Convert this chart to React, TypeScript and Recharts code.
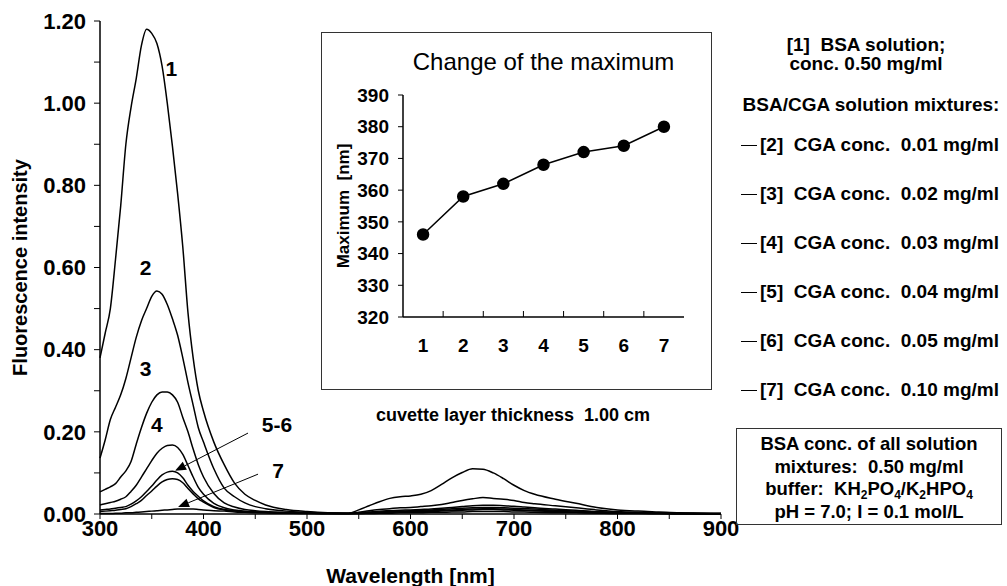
import React from 'react'
import { LineChart, Line, XAxis, YAxis, ReferenceLine, ReferenceDot, Label } from 'recharts'

const FONT = '"Liberation Sans", Arial, Helvetica, sans-serif'

// emission wavelengths [nm]
const wavelengths = [
  300, 305, 310, 315, 320, 325, 330, 335, 340, 345, 350, 355, 360, 365, 370, 375, 380, 385, 390, 395, 400,
  410, 420, 430, 440, 450, 460,
  480, 500, 520, 540,
  550, 560, 570, 580, 590, 600, 610, 620, 630, 640, 650, 660, 670, 680, 690, 700, 710, 720,
  740, 760, 780, 800, 820, 840, 860, 880, 900,
]

// [1] BSA solution
const bsa = [
  0.38, 0.44, 0.50, 0.62, 0.75, 0.90, 0.99, 1.06, 1.14, 1.18, 1.17, 1.145, 1.09, 1.00, 0.895, 0.78, 0.65, 0.49, 0.38, 0.30, 0.25,
  0.175, 0.12, 0.075, 0.048, 0.033, 0.022,
  0.011, 0.006, 0.003, 0.002,
  0.010, 0.020, 0.030, 0.038, 0.042, 0.044, 0.048, 0.057, 0.072, 0.088, 0.101, 0.110, 0.109, 0.100, 0.086, 0.070, 0.057, 0.048,
  0.036, 0.026, 0.016, 0.010, 0.007, 0.005, 0.003, 0.002, 0.001,
]
// [2] CGA 0.01 mg/ml
const cga001 = [
  0.136, 0.18, 0.23, 0.26, 0.29, 0.33, 0.38, 0.43, 0.47, 0.50, 0.53, 0.543, 0.535, 0.51, 0.475, 0.435, 0.38, 0.32, 0.265, 0.21, 0.175,
  0.11, 0.063, 0.042, 0.027, 0.018, 0.013,
  0.007, 0.004, 0.002, 0.001,
  0.004, 0.008, 0.011, 0.013, 0.015, 0.016, 0.018, 0.020, 0.023, 0.028, 0.033, 0.037, 0.040, 0.038, 0.036, 0.033, 0.028, 0.025,
  0.020, 0.015, 0.010, 0.006, 0.004, 0.003, 0.002, 0.001, 0.001,
]
// [3] CGA 0.02 mg/ml
const cga002 = [
  0.054, 0.06, 0.066, 0.074, 0.09, 0.105, 0.128, 0.17, 0.21, 0.245, 0.272, 0.29, 0.297, 0.297, 0.29, 0.272, 0.235, 0.20, 0.158, 0.12, 0.09,
  0.05, 0.027, 0.017, 0.011, 0.008, 0.006,
  0.004, 0.003, 0.002, 0.001,
  0.003, 0.005, 0.007, 0.008, 0.009, 0.010, 0.011, 0.012, 0.014, 0.016, 0.018, 0.020, 0.021, 0.021, 0.020, 0.019, 0.017, 0.015,
  0.012, 0.009, 0.006, 0.004, 0.003, 0.002, 0.001, 0.001, 0.001,
]
// [4] CGA 0.03 mg/ml
const cga003 = [
  0.022, 0.025, 0.028, 0.031, 0.036, 0.042, 0.055, 0.07, 0.09, 0.11, 0.13, 0.148, 0.16, 0.167, 0.168, 0.162, 0.145, 0.118, 0.09, 0.065, 0.048,
  0.026, 0.015, 0.010, 0.007, 0.005, 0.004,
  0.003, 0.002, 0.001, 0.001,
  0.002, 0.004, 0.005, 0.006, 0.007, 0.008, 0.009, 0.010, 0.011, 0.013, 0.014, 0.015, 0.016, 0.016, 0.015, 0.014, 0.013, 0.012,
  0.009, 0.007, 0.005, 0.003, 0.002, 0.002, 0.001, 0.001, 0.001,
]
// [5] CGA 0.04 mg/ml
const cga004 = [
  0.010, 0.011, 0.012, 0.014, 0.016, 0.018, 0.024, 0.032, 0.042, 0.055, 0.068, 0.083, 0.095, 0.102, 0.104, 0.100, 0.088, 0.070, 0.055, 0.043, 0.032,
  0.018, 0.011, 0.008, 0.006, 0.005, 0.004,
  0.003, 0.002, 0.001, 0.001,
  0.002, 0.003, 0.004, 0.005, 0.006, 0.006, 0.007, 0.008, 0.009, 0.010, 0.011, 0.012, 0.013, 0.013, 0.012, 0.011, 0.010, 0.009,
  0.007, 0.005, 0.004, 0.003, 0.002, 0.001, 0.001, 0.001, 0,
]
// [6] CGA 0.05 mg/ml
const cga005 = [
  0.006, 0.007, 0.008, 0.009, 0.011, 0.013, 0.018, 0.025, 0.033, 0.045, 0.056, 0.068, 0.078, 0.084, 0.086, 0.084, 0.076, 0.062, 0.049, 0.037, 0.029,
  0.016, 0.010, 0.007, 0.005, 0.004, 0.003,
  0.002, 0.002, 0.001, 0.001,
  0.001, 0.002, 0.003, 0.004, 0.005, 0.005, 0.006, 0.006, 0.007, 0.008, 0.009, 0.010, 0.011, 0.011, 0.010, 0.009, 0.008, 0.007,
  0.006, 0.004, 0.003, 0.002, 0.002, 0.001, 0.001, 0, 0,
]
// [7] CGA 0.10 mg/ml
const cga010 = [
  0.001, 0.001, 0.001, 0.002, 0.002, 0.003, 0.003, 0.004, 0.005, 0.006, 0.007, 0.008, 0.009, 0.010, 0.011, 0.012, 0.012, 0.012, 0.012, 0.011, 0.010,
  0.008, 0.007, 0.005, 0.004, 0.003, 0.003,
  0.002, 0.001, 0.001, 0.001,
  0.001, 0.001, 0.002, 0.002, 0.003, 0.003, 0.003, 0.004, 0.004, 0.005, 0.005, 0.006, 0.006, 0.006, 0.006, 0.005, 0.005, 0.004,
  0.003, 0.003, 0.002, 0.001, 0.001, 0.001, 0, 0, 0,
]

const seriesList = [bsa, cga001, cga002, cga003, cga004, cga005, cga010]
const seriesKeys = ['s1', 's2', 's3', 's4', 's5', 's6', 's7']

const xTicks = [300, 350, 400, 450, 500, 550, 600, 650, 700, 750, 800, 850, 900]
const yTicks = [0, 0.1, 0.2, 0.3, 0.4, 0.5, 0.6, 0.7, 0.8, 0.9, 1.0, 1.1, 1.2]

// curve labels and arrows, in data units
const curveNotes = [
  { text: '1', nm: 369, v: 1.085 },
  { text: '2', nm: 344, v: 0.6 },
  { text: '3', nm: 344, v: 0.355 },
  { text: '4', nm: 355, v: 0.219 },
  { text: '5-6', nm: 471, v: 0.217 },
  { text: '7', nm: 472, v: 0.107 },
]
const arrows = [
  { from: [443, 0.197], to: [372.5, 0.105] },
  { from: [452.7, 0.097], to: [375.4, 0.017] },
]

// inset: position of the maximum
const steps = [1, 2, 3, 4, 5, 6, 7]
const maxima = [346, 358, 362, 368, 372, 374, 380]
const insetXTicks = [0.5, 1, 1.5, 2, 2.5, 3, 3.5, 4, 4.5, 5, 5.5, 6, 6.5, 7, 7.5]
const insetYTicks = [320, 330, 340, 350, 360, 370, 380, 390]

const legendItems = [
  { id: 2, conc: '0.01' },
  { id: 3, conc: '0.02' },
  { id: 4, conc: '0.03' },
  { id: 5, conc: '0.04' },
  { id: 6, conc: '0.05' },
  { id: 7, conc: '0.10' },
]

const spectra = wavelengths.map((nm, i) => {
  const row: any = { nm }
  seriesKeys.forEach((k, j) => { row[k] = seriesList[j][i] })
  return row
})
const insetData = steps.map((step, i) => ({ step, max: maxima[i] }))

const Arrow = (props: any) => {
  const { x1, y1, x2, y2 } = props
  const ang = Math.atan2(y2 - y1, x2 - x1)
  const len = 11
  const half = 4.5
  const bx = x2 - len * Math.cos(ang)
  const by = y2 - len * Math.sin(ang)
  const px = -Math.sin(ang) * half
  const py = Math.cos(ang) * half
  return (
    <g>
      <line x1={x1} y1={y1} x2={bx} y2={by} stroke="#000" strokeWidth={1} />
      <polygon points={`${x2},${y2} ${bx + px},${by + py} ${bx - px},${by - py}`} fill="#000" />
    </g>
  )
}

const InsetTick = (props: any) => {
  const { x, y, payload } = props
  const v = payload.value
  if (Number.isInteger(v)) {
    return (
      <text x={x} y={y + 28} textAnchor="middle" dominantBaseline="central"
        fontFamily={FONT} fontWeight="bold" fontSize={19} fill="#000">{v}</text>
    )
  }
  if (v <= 0.5 || v >= 7.5) return <g />
  return <line x1={x} y1={y} x2={x} y2={y - 6} stroke="#000" strokeWidth={1} />
}

const boldText = { fontFamily: FONT, fontWeight: 'bold' as const, color: '#000', whiteSpace: 'pre' as const }
const sub = { fontSize: '0.65em', verticalAlign: '-0.3em', lineHeight: 0 }

export default function App() {
  const tickStyle = { fontFamily: FONT, fontWeight: 'bold', fontSize: 22, fill: '#000' }
  return (
    <div style={{ position: 'absolute', left: 0, top: 0, width: 1007, height: 586, background: '#fff' }}>
      <LineChart width={1007} height={586} data={spectra} margin={{ top: 21, right: 286, left: 0, bottom: 0 }}>
        <XAxis dataKey="nm" type="number" domain={[300, 900]} ticks={xTicks} interval={0} height={72}
          tickFormatter={(v: number) => (v % 100 === 0 ? String(v) : '')}
          tick={tickStyle} tickSize={5} tickMargin={1} stroke="#000" axisLine={{ stroke: '#000', strokeWidth: 1.5 }}>
          <Label value="Wavelength [nm]" position="insideBottom" offset={3}
            style={{ fontFamily: FONT, fontWeight: 'bold', fontSize: 21, fill: '#000' }} />
        </XAxis>
        <XAxis xAxisId="top" orientation="top" type="number" dataKey="nm" domain={[300, 900]} height={0}
          tick={false} tickLine={false} axisLine={{ stroke: '#000', strokeWidth: 1.5 }} />
        <YAxis type="number" domain={[0, 1.2]} ticks={yTicks} interval={0} width={100}
          tickFormatter={(v: number) => (Math.round(v * 10) % 2 === 0 ? v.toFixed(2) : '')}
          tick={tickStyle} tickSize={6} tickMargin={8} stroke="#000" axisLine={{ stroke: '#000', strokeWidth: 1.5 }}>
          <Label value="Fluorescence intensity" angle={-90} position="insideLeft" offset={20}
            style={{ fontFamily: FONT, fontWeight: 'bold', fontSize: 20, fill: '#000', textAnchor: 'middle' }} />
        </YAxis>
        <YAxis yAxisId="right" orientation="right" type="number" domain={[0, 1.2]} width={0}
          tick={false} tickLine={false} axisLine={{ stroke: '#000', strokeWidth: 1.5 }} />
        {seriesKeys.map((k) => (
          <Line key={k} dataKey={k} type="monotone" stroke="#000" strokeWidth={1.5} dot={false} isAnimationActive={false} />
        ))}
        {arrows.map((a, i) => (
          <ReferenceLine key={`a${i}`} segment={[{ x: a.from[0], y: a.from[1] }, { x: a.to[0], y: a.to[1] }]} shape={Arrow} />
        ))}
        {curveNotes.map((n) => (
          <ReferenceDot key={n.text} x={n.nm} y={n.v} r={0}
            shape={(p: any) => (
              <text x={p.cx} y={p.cy} textAnchor="middle" dominantBaseline="central"
                fontFamily={FONT} fontWeight="bold" fontSize={21} fill="#000">{n.text}</text>
            )} />
        ))}
      </LineChart>

      {/* inset */}
      <div style={{ position: 'absolute', left: 321, top: 32, width: 391, height: 358, boxSizing: 'border-box', border: '1px solid #333', background: '#fff' }}>
        <LineChart width={389} height={356} data={insetData} margin={{ top: 62, right: 27, left: 21, bottom: 0 }}>
          <XAxis dataKey="step" type="number" domain={[0.5, 7.5]} ticks={insetXTicks} interval={0} height={72}
            tick={<InsetTick />} tickLine={false} tickSize={0} tickMargin={0} axisLine={{ stroke: '#000', strokeWidth: 1.5 }} />
          <XAxis xAxisId="top" orientation="top" type="number" dataKey="step" domain={[0.5, 7.5]} height={0}
            tick={false} tickLine={false} axisLine={{ stroke: '#000', strokeWidth: 1.5 }} />
          <YAxis type="number" domain={[320, 390]} ticks={insetYTicks} interval={0} width={60}
            tick={{ fontFamily: FONT, fontWeight: 'bold', fontSize: 19, fill: '#000' }} tickSize={5} tickMargin={9}
            stroke="#000" axisLine={{ stroke: '#000', strokeWidth: 1.5 }}>
            <Label value={'Maximum\u00a0 [nm]'} angle={-90} position="insideLeft" offset={0}
              style={{ fontFamily: FONT, fontWeight: 'bold', fontSize: 17, fill: '#000', textAnchor: 'middle' }} />
          </YAxis>
          <YAxis yAxisId="right" orientation="right" type="number" domain={[320, 390]} width={0}
            tick={false} tickLine={false} axisLine={{ stroke: '#000', strokeWidth: 1.5 }} />
          <Line dataKey="max" type="linear" stroke="#000" strokeWidth={1.5} isAnimationActive={false}
            dot={{ r: 5.5, fill: '#000', stroke: '#000' }} />
        </LineChart>
      </div>
      <div style={{ position: 'absolute', left: 393, top: 48, width: 301, textAlign: 'center', fontFamily: FONT, fontSize: 24, lineHeight: '28px', color: '#000' }}>
        Change of the maximum
      </div>

      <div style={{ ...boldText, position: 'absolute', left: 363, top: 404, width: 300, textAlign: 'center', fontSize: 18, lineHeight: '22px' }}>
        {'cuvette layer thickness  1.00 cm'}
      </div>

      {/* right-hand notes */}
      <div style={{ ...boldText, position: 'absolute', left: 730, top: 35, width: 272, textAlign: 'center', fontSize: 19, lineHeight: '20px' }}>
        {'[1]  BSA solution;'}
      </div>
      <div style={{ ...boldText, position: 'absolute', left: 730, top: 54, width: 272, textAlign: 'center', fontSize: 19, lineHeight: '20px' }}>
        {'conc. 0.50 mg/ml'}
      </div>
      <div style={{ ...boldText, position: 'absolute', left: 735, top: 95, width: 272, textAlign: 'center', fontSize: 19, lineHeight: '20px' }}>
        {'BSA/CGA solution mixtures:'}
      </div>
      {legendItems.map((it, i) => (
        <div key={it.id} style={{ position: 'absolute', left: 741, top: 135 + i * 49, height: 20, width: 266 }}>
          <div style={{ position: 'absolute', left: 0, top: 10, width: 16, borderTop: '1px solid #000' }} />
          <div style={{ ...boldText, position: 'absolute', left: 19, top: 0, fontSize: 19, lineHeight: '20px' }}>
            {`[${it.id}]  CGA conc.  ${it.conc} mg/ml`}
          </div>
        </div>
      ))}
      <div style={{ ...boldText, position: 'absolute', left: 736, top: 428, width: 266, height: 97, boxSizing: 'border-box', border: '1px solid #333', textAlign: 'center', fontSize: 18.5, lineHeight: '22.5px', paddingTop: 4 }}>
        <div>BSA conc. of all solution</div>
        <div>{'mixtures:  0.50 mg/ml'}</div>
        <div>
          {'buffer:  KH'}<sub style={sub}>2</sub>PO<sub style={sub}>4</sub>/K<sub style={sub}>2</sub>HPO<sub style={sub}>4</sub>
        </div>
        <div>{'pH = 7.0; I = 0.1 mol/L'}</div>
      </div>
    </div>
  )
}
